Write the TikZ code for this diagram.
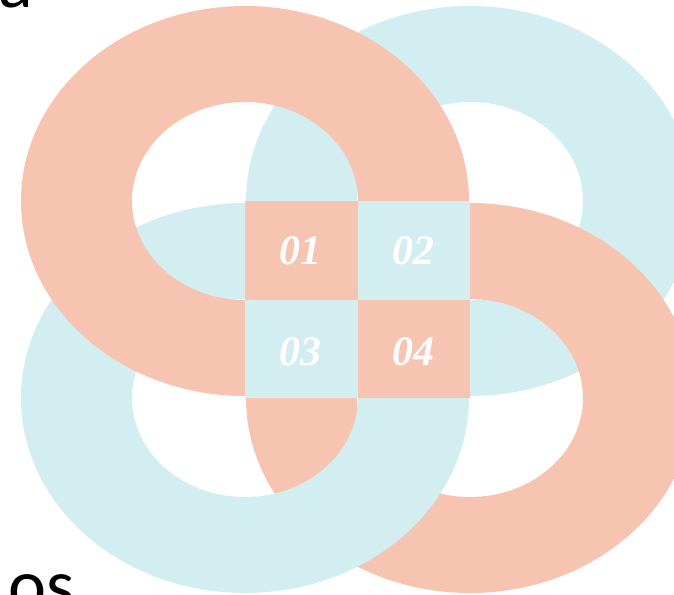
\documentclass[tikz,border=0pt]{standalone}
\usepackage{fontspec}
\setmainfont{Liberation Serif}
\newfontfamily\labelfont{Carlito}
\definecolor{salmon}{HTML}{F6C4B1}
\definecolor{aqua}{HTML}{D2EEF0}
\tikzset{
  ringsalmon/.style={fill=salmon, even odd rule},
  ringaqua/.style={fill=aqua, even odd rule},
  numtext/.style={text=white, font=\fontsize{42}{42}\selectfont\bfseries\itshape, inner sep=0pt},
  cornertext/.style={text=black, font=\labelfont\fontsize{72}{72}\selectfont, inner sep=0pt, anchor=base west}
}
\begin{document}
\begin{tikzpicture}[x=1pt,y=-1pt]
\useasboundingbox (0,0) rectangle (674,594);
% rings, bottom to top
\fill[ringaqua]   (470,201) ellipse [x radius=224pt, y radius=195pt] (470,201) ellipse [x radius=113pt, y radius=99pt];
\fill[ringsalmon] (470,398) ellipse [x radius=224pt, y radius=195pt] (470,398) ellipse [x radius=113pt, y radius=99pt];
\fill[ringaqua]   (245,398) ellipse [x radius=224pt, y radius=195pt] (245,398) ellipse [x radius=113pt, y radius=99pt];
\fill[ringsalmon] (245,201) ellipse [x radius=224pt, y radius=195pt] (245,201) ellipse [x radius=113pt, y radius=99pt];
% central squares
\fill[salmon] (245,201) rectangle (357.5,300);
\fill[aqua]   (357.5,201) rectangle (470,300);
\fill[aqua]   (245,300) rectangle (357.5,398);
\fill[salmon] (357.5,300) rectangle (470,398);
% numbers
\node[numtext] (n1) at (300,251) {01};
\node[numtext] (n2) at (413,251) {02};
\node[numtext] (n3) at (300,352) {03};
\node[numtext] (n4) at (413,352) {04};
% clipped corner texts
\node[cornertext] (ta) at (-2,8) {a};
\node[cornertext] (tos) at (8,609) {os};
\end{tikzpicture}
\end{document}
